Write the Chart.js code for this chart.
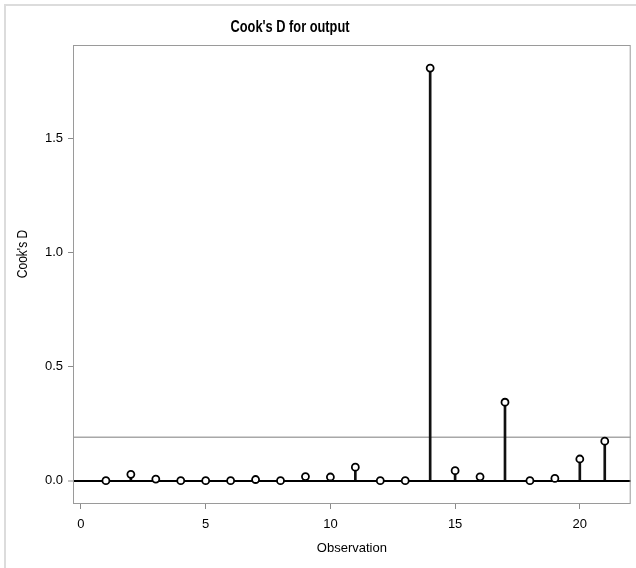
<!DOCTYPE html>
<html>
<head>
<meta charset="utf-8">
<script src="https://cdn.jsdelivr.net/npm/chart.js@4/dist/chart.umd.min.js"></script>
<style>
html, body { margin: 0; padding: 0; background: #fff; }
#wrap { position: relative; width: 636px; height: 568px; }
</style>
</head>
<body>
<div id="wrap"><canvas id="cooks" width="636" height="568"></canvas></div>
<script>
var observations = [1, 2, 3, 4, 5, 6, 7, 8, 9, 10, 11, 12, 13, 14, 15, 16, 17, 18, 19, 20, 21];
var cooksD = [0.0, 0.028, 0.007, 0.0, 0.0, 0.0, 0.005, 0.0, 0.018, 0.016, 0.059, 0.0, 0.0, 1.81, 0.044, 0.017, 0.344, 0.0, 0.01, 0.095, 0.173];
var cutoff = 0.19;
var xRange = [-0.32, 22.04];
var yRange = [-0.098, 1.911];

var FONT = '"Liberation Sans", Arial, sans-serif';

var points = observations.map(function(o, i) {
    return { x: o, y: cooksD[i] };
});

// narrow-looking text like the SAS output
var narrowText = function(ctx, text, x, y, font, rot) {
    ctx.save();
    ctx.translate(x, y);
    if (rot) ctx.rotate(rot);
    ctx.scale(0.8, 1);
    ctx.font = font;
    ctx.fillStyle = '#000';
    ctx.textAlign = 'center';
    ctx.textBaseline = 'middle';
    ctx.fillText(text, 0, 0);
    ctx.restore();
};

var sasDecor = {
    id: 'sasDecor',
    beforeDraw: function(chart) {
        var ctx = chart.ctx;
        ctx.save();
        // outer graph frame
        ctx.strokeStyle = '#dcdcdc';
        ctx.lineWidth = 2;
        ctx.beginPath();
        ctx.moveTo(5, 568);
        ctx.lineTo(5, 5);
        ctx.lineTo(636, 5);
        ctx.stroke();
        ctx.restore();
    },
    afterDraw: function(chart) {
        var ctx = chart.ctx;
        var a = chart.chartArea;
        ctx.save();
        ctx.strokeStyle = '#9a9a9a';
        ctx.lineWidth = 1;
        ctx.strokeRect(a.left + 0.5, a.top + 0.5, a.right - a.left - 1, a.bottom - a.top);
        ctx.restore();

        narrowText(ctx, "Cook's D for output", 290, 28, 'bold 16px ' + FONT, 0);
        narrowText(ctx, "Cook's D", 23, 254, '15px ' + FONT, -Math.PI / 2);
    }
};

window.onload = function() {
    var ctx = document.getElementById('cooks');
    window.cooksChart = new Chart(ctx, {
        type: 'scatter',
        data: {
            datasets: [{
                type: 'scatter',
                label: "Cook's D",
                data: points,
                pointRadius: 3.5,
                pointHoverRadius: 3.5,
                pointBorderWidth: 1.8,
                borderColor: '#000',
                backgroundColor: '#fff',
                order: 0
            }, {
                type: 'bar',
                label: 'stems',
                data: points,
                barThickness: 2,
                backgroundColor: '#111',
                borderWidth: 0,
                order: 1
            }, {
                type: 'line',
                label: 'cutoff',
                data: [{ x: xRange[0], y: cutoff }, { x: xRange[1], y: cutoff }],
                borderColor: '#a8a8a8',
                borderWidth: 1.5,
                pointRadius: 0,
                fill: false,
                order: 2
            }]
        },
        options: {
            responsive: false,
            animation: false,
            devicePixelRatio: 1,
            layout: {
                padding: { left: 0, top: 45, right: 4, bottom: 0 }
            },
            plugins: {
                legend: { display: false },
                title: { display: false },
                tooltip: { enabled: false }
            },
            scales: {
                x: {
                    type: 'linear',
                    min: xRange[0],
                    max: xRange[1],
                    offset: false,
                    afterFit: function(scale) { scale.height = 65; },
                    grid: {
                        display: true,
                        offset: false,
                        drawOnChartArea: false,
                        drawTicks: true,
                        tickLength: 6,
                        tickColor: '#8a8a8a'
                    },
                    border: { display: false },
                    ticks: {
                        stepSize: 5,
                        includeBounds: false,
                        padding: 8,
                        color: '#000',
                        font: { family: FONT, size: 13 },
                        maxRotation: 0
                    },
                    title: {
                        display: true,
                        text: 'Observation',
                        color: '#000',
                        font: { family: FONT, size: 13 },
                        padding: { top: 0, bottom: 12 }
                    }
                },
                y: {
                    type: 'linear',
                    min: yRange[0],
                    max: yRange[1],
                    afterFit: function(scale) { scale.width = 73; },
                    grid: {
                        color: function(c) { return c.tick && c.tick.value === 0 ? '#000' : 'rgba(0,0,0,0)'; },
                        lineWidth: function(c) { return c.tick && c.tick.value === 0 ? 2 : 1; },
                        tickLength: 5,
                        tickColor: '#8a8a8a',
                        tickWidth: 1
                    },
                    border: { display: false },
                    ticks: {
                        stepSize: 0.5,
                        includeBounds: false,
                        padding: 5,
                        color: '#000',
                        font: { family: FONT, size: 13 },
                        callback: function(v) { return v.toFixed(1); }
                    }
                }
            }
        },
        plugins: [sasDecor]
    });
};
</script>
</body>
</html>
